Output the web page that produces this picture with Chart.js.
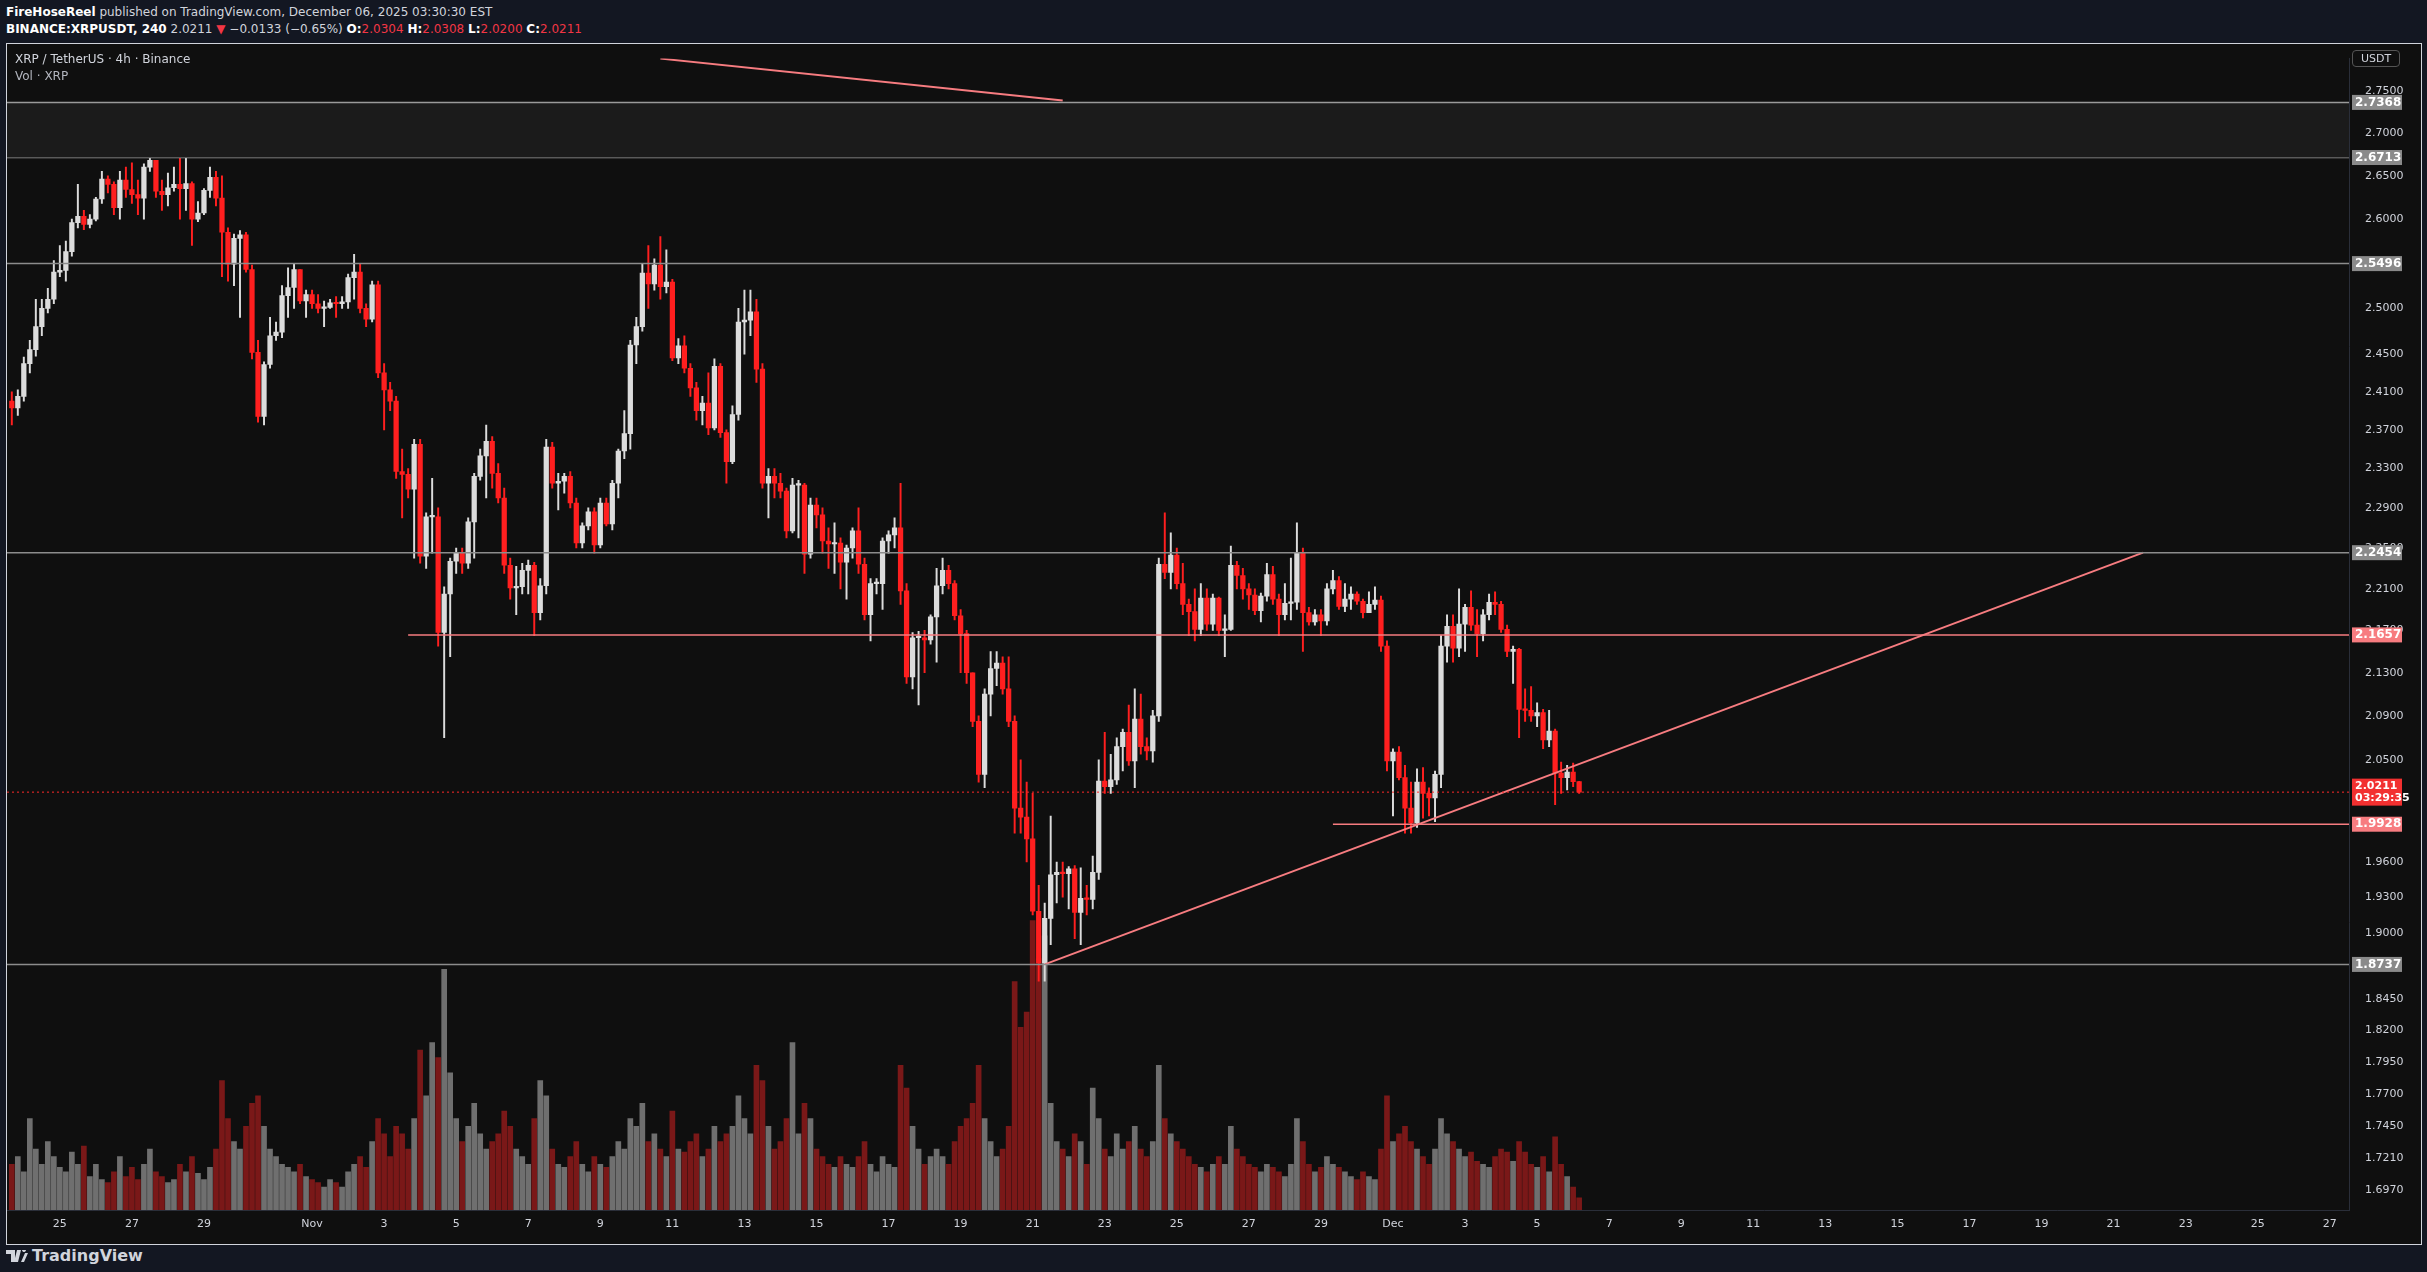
<!DOCTYPE html>
<html>
<head>
<meta charset="utf-8">
<script src="https://cdn.jsdelivr.net/npm/chart.js@4.4.1/dist/chart.umd.min.js"></script>
<style>
  body { margin: 0; background: #131722; width: 2427px; height: 1272px; overflow: hidden; font-family: "DejaVu Sans", sans-serif; }
  .hdr { position: absolute; left: 6px; color: #d1d4dc; font-size: 12px; white-space: nowrap; }
  .hdr b { color: #fff; }
  .red { color: #f23645; }
  #box { position: absolute; left: 6px; top: 43px; width: 2414px; height: 1200px; background: #0f0f0f; border: 1px solid #d1d4dc; }
  .lab { position: absolute; color: #d1d4dc; font-size: 12px; }
  #foot { position: absolute; left: 6px; top: 1246px; color: #d1d4dc; font: bold 16px "DejaVu Sans"; display: flex; align-items: center; gap: 4px; }
</style>
</head>
<body>
<div class="hdr" style="top:5px"><b>FireHoseReel</b> published on TradingView.com, December 06, 2025 03:30:30 EST</div>
<div class="hdr" style="top:22px"><b>BINANCE:XRPUSDT, 240</b> 2.0211 <span class="red">▼</span> −0.0133 (−0.65%) <b>O:</b><span class="red">2.0304</span> <b>H:</b><span class="red">2.0308</span> <b>L:</b><span class="red">2.0200</span> <b>C:</b><span class="red">2.0211</span></div>
<div id="box"><canvas id="c"></canvas></div>
<div class="lab" style="left:15px;top:52px">XRP / TetherUS · 4h · Binance</div>
<div class="lab" style="left:15px;top:69px;color:#b2b5be">Vol · XRP</div>
<div class="lab" style="left:2352px;top:50px;border:1px solid #555;border-radius:4px;padding:1px 8px;font-size:11px">USDT</div>
<div id="foot"><svg width="22" height="12" viewBox="0 0 22 12"><path d="M0 0h9v12H5V4H0z M11 0h4l-3 12H8z M16 0a2 2 0 1 1 0 .1z M15 12l4-9h3l-4 9z" fill="#d1d4dc"/></svg>TradingView</div>
<script>
const closes = [
  2.393,2.405,2.44,2.455,2.48,2.50,2.51,2.54,2.542,2.563,
  2.596,2.603,2.594,2.60,2.623,2.646,2.64,2.613,2.645,2.634,
  2.628,2.624,2.66,2.668,2.632,2.628,2.636,2.64,2.635,2.641,
  2.60,2.607,2.633,2.648,2.624,2.585,2.549,2.578,2.582,2.543,
  2.452,2.384,2.439,2.47,2.474,2.514,2.523,2.543,2.508,2.515,
  2.505,2.50,2.501,2.506,2.505,2.507,2.534,2.54,2.50,2.488,
  2.526,2.43,2.412,2.40,2.327,2.324,2.309,2.355,2.242,2.281,
  2.281,2.168,2.205,2.237,2.245,2.235,2.276,2.322,2.343,2.358,
  2.325,2.30,2.233,2.211,2.212,2.228,2.233,2.187,2.213,2.352,
  2.315,2.317,2.322,2.295,2.255,2.272,2.286,2.253,2.295,2.274,
  2.315,2.348,2.366,2.46,2.48,2.539,2.527,2.548,2.524,2.529,
  2.446,2.459,2.435,2.414,2.39,2.398,2.372,2.437,2.367,2.337,
  2.386,2.485,2.487,2.496,2.434,2.315,2.322,2.315,2.307,2.267,
  2.313,2.313,2.244,2.293,2.283,2.257,2.254,2.255,2.236,2.25,
  2.267,2.234,2.185,2.215,2.215,2.257,2.263,2.27,2.208,2.126,
  2.163,2.163,2.161,2.183,2.213,2.228,2.215,2.184,2.167,2.13,
  2.085,2.037,2.11,2.134,2.139,2.115,2.085,2.007,1.999,1.98,
  1.918,1.875,1.912,1.949,1.951,1.95,1.954,1.917,1.929,1.928,
  1.951,2.031,2.026,2.032,2.062,2.075,2.049,2.087,2.062,2.058,
  2.09,2.234,2.226,2.243,2.215,2.195,2.188,2.171,2.201,2.176,
  2.201,2.17,2.171,2.233,2.223,2.21,2.204,2.189,2.203,2.224,
  2.20,2.185,2.196,2.197,2.245,2.187,2.178,2.185,2.179,2.21,
  2.218,2.193,2.20,2.205,2.198,2.187,2.195,2.199,2.155,2.049,
  2.057,2.034,2.007,1.994,2.03,2.02,2.016,2.037,2.155,2.174,
  2.153,2.176,2.192,2.175,2.167,2.185,2.197,2.195,2.171,2.15,
  2.152,2.096,2.095,2.09,2.093,2.068,2.076,2.038,2.034,2.039,
  2.0304,2.0211
];
const highs = [
  2.41,2.412,2.447,2.465,2.51,2.51,2.522,2.553,2.57,2.575,
  2.60,2.64,2.61,2.605,2.625,2.655,2.65,2.643,2.655,2.66,
  2.665,2.645,2.664,2.70,2.668,2.645,2.653,2.66,2.69,2.683,
  2.643,2.62,2.635,2.66,2.655,2.65,2.59,2.583,2.587,2.585,
  2.548,2.465,2.442,2.49,2.485,2.525,2.545,2.55,2.543,2.52,
  2.52,2.515,2.508,2.51,2.513,2.513,2.538,2.56,2.55,2.505,
  2.53,2.53,2.44,2.42,2.405,2.35,2.33,2.36,2.36,2.285,
  2.32,2.29,2.212,2.24,2.25,2.25,2.28,2.325,2.35,2.375,
  2.363,2.335,2.31,2.24,2.232,2.235,2.238,2.236,2.22,2.36,
  2.357,2.325,2.325,2.327,2.30,2.275,2.29,2.29,2.30,2.30,
  2.318,2.35,2.39,2.465,2.49,2.55,2.57,2.555,2.58,2.565,
  2.532,2.467,2.47,2.44,2.42,2.405,2.43,2.445,2.44,2.37,
  2.395,2.50,2.52,2.52,2.51,2.44,2.33,2.33,2.325,2.31,
  2.32,2.318,2.315,2.30,2.30,2.29,2.27,2.275,2.26,2.253,
  2.27,2.29,2.24,2.22,2.22,2.26,2.267,2.28,2.315,2.215,
  2.168,2.169,2.17,2.185,2.23,2.24,2.233,2.218,2.19,2.17,
  2.13,2.09,2.115,2.15,2.15,2.145,2.145,2.09,2.05,2.03,
  2.02,1.94,1.925,2.00,1.96,1.96,1.956,1.957,1.955,1.94,
  1.965,2.05,2.075,2.055,2.07,2.078,2.10,2.115,2.11,2.07,
  2.095,2.24,2.285,2.265,2.25,2.235,2.20,2.21,2.215,2.21,
  2.205,2.202,2.185,2.252,2.237,2.23,2.215,2.21,2.206,2.235,
  2.232,2.205,2.215,2.24,2.275,2.25,2.192,2.19,2.19,2.215,
  2.228,2.222,2.215,2.212,2.207,2.20,2.207,2.212,2.203,2.16,
  2.06,2.062,2.045,2.03,2.042,2.043,2.025,2.04,2.165,2.185,
  2.185,2.21,2.195,2.208,2.19,2.19,2.205,2.207,2.198,2.175,
  2.155,2.153,2.115,2.117,2.102,2.096,2.095,2.078,2.048,2.045,
  2.047,2.0308
];
const lows = [
  2.375,2.385,2.40,2.43,2.448,2.47,2.495,2.505,2.535,2.53,
  2.558,2.59,2.588,2.59,2.598,2.618,2.63,2.605,2.60,2.625,
  2.618,2.605,2.60,2.655,2.625,2.61,2.615,2.632,2.60,2.61,
  2.57,2.597,2.605,2.625,2.615,2.535,2.53,2.525,2.49,2.54,
  2.445,2.378,2.375,2.435,2.465,2.468,2.49,2.50,2.505,2.49,
  2.50,2.495,2.48,2.50,2.49,2.50,2.50,2.51,2.495,2.48,
  2.485,2.425,2.37,2.39,2.32,2.28,2.30,2.24,2.235,2.23,
  2.245,2.155,2.07,2.145,2.225,2.225,2.23,2.24,2.318,2.30,
  2.31,2.295,2.225,2.20,2.185,2.205,2.205,2.165,2.18,2.205,
  2.31,2.288,2.305,2.29,2.25,2.25,2.268,2.245,2.25,2.272,
  2.268,2.30,2.34,2.35,2.44,2.475,2.50,2.52,2.51,2.517,
  2.443,2.44,2.43,2.405,2.38,2.375,2.365,2.37,2.362,2.315,
  2.335,2.38,2.45,2.47,2.42,2.31,2.28,2.30,2.30,2.26,
  2.265,2.26,2.225,2.24,2.27,2.245,2.23,2.225,2.21,2.20,
  2.24,2.225,2.18,2.16,2.205,2.19,2.245,2.25,2.195,2.12,
  2.115,2.10,2.13,2.157,2.14,2.205,2.21,2.18,2.13,2.12,
  2.08,2.03,2.025,2.09,2.118,2.11,2.08,1.985,1.985,1.96,
  1.915,1.86,1.86,1.89,1.925,1.93,1.92,1.895,1.89,1.915,
  1.92,1.945,2.02,2.02,2.028,2.04,2.045,2.025,2.055,2.05,
  2.048,2.085,2.22,2.21,2.21,2.185,2.165,2.16,2.165,2.17,
  2.17,2.165,2.145,2.17,2.21,2.20,2.19,2.185,2.178,2.198,
  2.195,2.165,2.18,2.18,2.19,2.15,2.175,2.175,2.165,2.175,
  2.205,2.19,2.188,2.19,2.195,2.182,2.187,2.19,2.15,2.04,
  2.00,2.032,1.985,1.985,1.99,1.998,2.0,1.995,2.025,2.14,
  2.14,2.145,2.15,2.17,2.145,2.16,2.18,2.185,2.168,2.145,
  2.12,2.07,2.085,2.085,2.08,2.06,2.062,2.01,2.02,2.023,
  2.026,2.02
];
const volumes = [
  30,35,25,60,40,30,45,35,28,25,38,30,42,22,30,20,18,25,35,22,
  28,20,30,40,25,22,18,20,30,25,35,24,20,28,40,85,60,45,40,55,
  70,75,55,40,35,30,28,25,30,22,20,18,15,20,18,15,25,30,35,28,
  45,60,50,35,55,50,40,60,105,75,110,100,158,90,60,45,55,70,50,40,
  45,50,65,55,40,35,30,60,85,75,40,30,28,35,45,30,25,35,30,28,
  35,45,40,60,55,70,45,50,40,35,65,40,38,45,50,35,40,55,45,50,
  55,75,60,50,95,85,55,40,45,60,110,50,70,60,40,35,30,28,35,30,
  28,35,45,30,25,35,30,28,95,80,55,40,30,35,40,35,30,45,55,60,
  70,95,60,45,35,40,55,150,120,130,190,165,180,70,45,40,35,50,45,30,
  80,60,40,35,50,40,45,55,40,35,45,95,60,50,45,40,35,30,28,25,
  30,35,30,55,40,35,30,28,25,30,28,25,22,30,60,45,30,25,28,35,
  30,28,25,22,20,25,22,20,40,75,45,50,55,45,40,35,30,40,60,50,
  45,40,35,38,32,30,28,35,40,38,32,45,38,30,28,35,25,48,30,22,
  15,8
];
const firstOpen = 2.40;
const tickDays = [24,26,28,31,33,35,37,39,41,43,45,47,49,51,53,55,57,59,61,63,65,67,69,71,73,75,77,79,81,83,85,87];
const tickText = ['25','27','29','Nov','3','5','7','9','11','13','15','17','19','21','23','25','27','29','Dec','3','5','7','9','11','13','15','17','19','21','23','25','27'];
const priceTicks = [2.75,2.70,2.65,2.60,2.50,2.45,2.41,2.37,2.33,2.29,2.25,2.21,2.17,2.13,2.09,2.05,1.96,1.93,1.90,1.845,1.82,1.795,1.77,1.745,1.721,1.697];
const greyLevels = [2.5496, 2.2454, 1.8737];
const priceTags = [
  [2.7368, '#8a8a8a'], [2.6713, '#8a8a8a'], [2.5496, '#8a8a8a'], [2.2454, '#8a8a8a'],
  [2.1657, '#f77c80'], [1.9928, '#f77c80'], [1.8737, '#8a8a8a']
];

const firstDay = 22.667; // Oct 23, 16:00 as day offset from Oct 1
const idxOfDay = d => (d - firstDay) * 6;
const UP = '#dcdcdc', DN = '#ff1f1f';
const opens = closes.map((c, i) => i === 0 ? firstOpen : closes[i - 1]);
const isUp = closes.map((c, i) => c >= opens[i]);
const XMIN = -0.8, XMAX = 389.2;

const hline = (y, color, w, x0 = XMIN, dash = []) => ({
  type: 'line', data: [{x: x0, y}, {x: XMAX, y}], borderColor: color, borderWidth: w,
  borderDash: dash, pointRadius: 0, yAxisID: 'y', order: 0
});

const datasets = [
  // gray zone between the 2.6713 and 2.7368 levels
  Object.assign(hline(2.7368, '#9a9a9a', 1.5), {fill: '+1', backgroundColor: '#1b1b1b'}),
  hline(2.6713, '#9a9a9a', 1.5),
  hline(2.7318, '#9a9a9a', 1.5),
  hline(2.6763, '#9a9a9a', 1.5),
  ...greyLevels.map(v => hline(v, '#8c8c8c', 1.5)),
  hline(2.1657, '#f77c80', 1.5, 66),
  hline(1.9928, '#f77c80', 1.5, 220),
  hline(closes[closes.length - 1], '#ff2a2a', 1, XMIN, [2, 3]),
  { type: 'line', data: [{x: 172, y: 1.8737}, {x: 354.9, y: 2.2454}], borderColor: '#f77c80', borderWidth: 2, pointRadius: 0, yAxisID: 'y', order: 0 },
  { type: 'line', data: [{x: 108, y: 2.79}, {x: 175, y: 2.739}], borderColor: '#f77c80', borderWidth: 2, pointRadius: 0, yAxisID: 'y', order: 0 },
  {
    type: 'bar', data: volumes.map((v, i) => ({x: i, y: v})), yAxisID: 'yv',
    backgroundColor: isUp.map(u => u ? 'rgba(128,128,128,0.85)' : '#7a1818'),
    barThickness: 5, grouped: false, order: 3
  },
  {
    type: 'bar', data: closes.map((c, i) => ({x: i, y: [lows[i], highs[i]]})), yAxisID: 'y',
    backgroundColor: isUp.map(u => u ? UP : DN), barThickness: 1.3, grouped: false, order: 2
  },
  {
    type: 'bar', data: closes.map((c, i) => ({x: i, y: [opens[i], c]})), yAxisID: 'y',
    backgroundColor: isUp.map(u => u ? UP : DN), barThickness: 4.6, minBarLength: 1.5, grouped: false, order: 1
  }
];

const tagPlugin = {
  id: 'tags',
  afterDraw(chart) {
    const ctx = chart.ctx, y = chart.scales.y, area = chart.chartArea;
    ctx.save();
    ctx.font = 'bold 12px "DejaVu Sans"';
    ctx.textBaseline = 'middle';
    const drawTag = (v, bg, txt, h) => {
      const py = y.getPixelForValue(v);
      ctx.fillStyle = bg;
      ctx.fillRect(area.right + 3, py - h / 2, 50, h);
      ctx.fillStyle = '#ffffff';
      txt.forEach((t, k) => ctx.fillText(t, area.right + 6, py - (txt.length - 1) * 6 + k * 12));
    };
    priceTags.forEach(([v, c]) => drawTag(v, c, [v.toFixed(4)], 15));
    ctx.font = 'bold 11px "DejaVu Sans"';
    drawTag(closes[closes.length - 1], '#f23030', ['2.0211', '03:29:35'], 27);
    ctx.restore();
  }
};

new Chart(document.getElementById('c'), {
  type: 'bar',
  data: { datasets },
  plugins: [tagPlugin],
  options: {
    responsive: true, maintainAspectRatio: false, animation: false,
    layout: { padding: 0 },
    plugins: { legend: { display: false }, tooltip: { enabled: false } },
    scales: {
      x: {
        type: 'linear', min: XMIN, max: XMAX, offset: false,
        grid: { display: false }, border: { color: '#2a2e39' },
        afterBuildTicks: s => { s.ticks = tickDays.map(d => ({value: idxOfDay(d)})); },
        afterFit: s => { s.height = 34; },
        ticks: {
          color: '#d1d4dc', font: { size: 11, family: 'DejaVu Sans' }, maxRotation: 0, autoSkip: false, padding: 0,
          callback: (v, k) => tickText[k]
        }
      },
      y: {
        type: 'logarithmic', position: 'right', min: 1.682, max: 2.79,
        grid: { display: false }, border: { color: '#2a2e39' },
        afterBuildTicks: s => { s.ticks = priceTicks.map(v => ({value: v})); },
        afterFit: s => { s.width = 72; },
        ticks: { color: '#d1d4dc', font: { size: 11, family: 'DejaVu Sans' }, padding: 8, autoSkip: false, callback: v => Number(v).toFixed(4) }
      },
      yv: { type: 'linear', display: false, min: 0, max: 756 }
    }
  }
});
</script>
</body>
</html>
